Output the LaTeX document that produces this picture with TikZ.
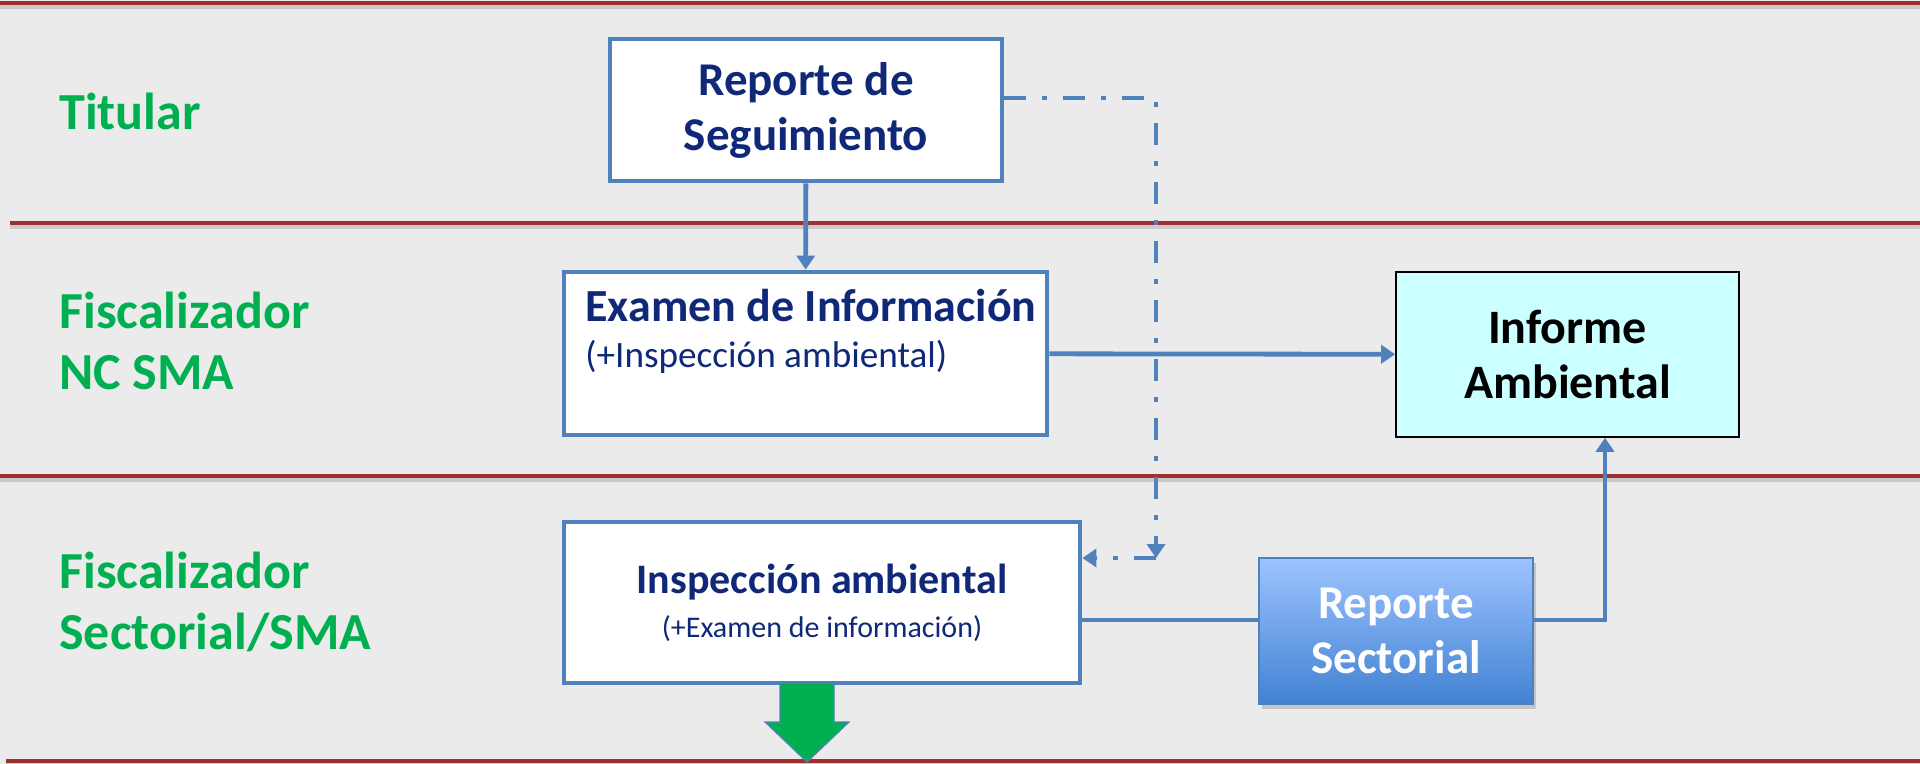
\documentclass[tikz,border=0pt]{standalone}
\usepackage{fontspec}
\setmainfont{Carlito}
\usepackage{tikz}
\usetikzlibrary{arrows.meta,shadows}
\definecolor{lanered}{RGB}{160,48,46}
\definecolor{boxblue}{RGB}{79,129,189}
\definecolor{navy}{RGB}{16,40,120}
\definecolor{lanegreen}{RGB}{0,176,80}
\definecolor{bggray}{RGB}{235,235,235}
\definecolor{cyanfill}{RGB}{204,255,255}
\definecolor{sectop}{RGB}{157,195,255}
\definecolor{secbot}{RGB}{66,130,210}
\tikzstyle{box} = [rectangle, draw=boxblue, line width=2.4pt, fill=white, text=navy, font=\bfseries\fontsize{23.5}{27.5}\selectfont, align=center]
\tikzstyle{line} = [draw=boxblue, line width=2.4pt, -{Triangle[length=7pt,width=9pt]}]
\tikzstyle{wire} = [draw=boxblue, line width=2.4pt]
\tikzstyle{dashdot} = [line, dash pattern=on 11pt off 8pt on 2.5pt off 8pt]
\tikzstyle{lanelabel} = [anchor=base west, inner sep=0pt, text=lanegreen, font=\bfseries\fontsize{26}{30.5}\selectfont, align=left]
\tikzstyle{laneline} = [draw=lanered, line width=1.6pt]

\begin{document}
\begin{tikzpicture}[x=0.5pt, y=-0.5pt]
    \useasboundingbox[fill=bggray] (0,0) rectangle (1920,764);

    % swimlane borders
    \foreach \y/\x in {3/0, 223/10, 476/0, 761/6} {
        \draw[black!40, opacity=0.4, line width=2pt] (\x,\y+4) -- (1920,\y+4);
        \draw[laneline] (\x,\y) -- (1920,\y);
    }

    \node [lanelabel] (titular) at (59,130) {Titular};
    \node [lanelabel] (fiscnc) at (59,389) {Fiscalizador\\NC SMA};
    \node [lanelabel] (fiscsec) at (59,649) {Fiscalizador\\Sectorial/SMA};

    \node [box, minimum width=196pt, minimum height=71pt] (seg) at (806,110) {Reporte de\\Seguimiento};
    \node [box, minimum width=241.5pt, minimum height=81.5pt] (exam) at (805.5,353.5) {};
    \node [anchor=base west, inner sep=0pt, align=left, text=navy, font=\fontsize{23}{23}\selectfont] (examtxt) at (585,367)
        {\textbf{Examen de Información}\\\fontsize{18.6}{23}\selectfont(+Inspección ambiental)};
    \node [box, minimum width=258pt, minimum height=80.5pt, font=\bfseries\fontsize{21}{22}\selectfont] (insp) at (822,602.5)
        {Inspección ambiental\\\normalfont\fontsize{15}{22}\selectfont(+Examen de información)};
    \node [box, draw=black, line width=0.8pt, fill=cyanfill, text=black, font=\bfseries\fontsize{24}{27.5}\selectfont, minimum width=171.5pt, minimum height=82.5pt] (inf) at (1567.5,354.5) {Informe\\Ambiental};
    \node [box, line width=0.8pt, top color=sectop, bottom color=secbot, text=white, minimum width=137pt, minimum height=73pt,
        drop shadow={shadow xshift=1.5pt, shadow yshift=-2.5pt, opacity=0.35}] (sect) at (1396,631) {Reporte\\Sectorial};

    \coordinate (ddtop) at (1156,98);
    \coordinate (ddbot) at (1156,558);
    \coordinate (lvl) at (1605,620);

    \path [line] (seg) -- (exam);
    \path [line] (exam) -- (inf);
    \path [dashdot] (seg.east |- ddtop) -- (ddtop) -- (ddbot);
    \path [dashdot] (ddbot) -- (ddbot -| insp.east);
    \path [wire] (insp.east |- lvl) -- (sect.west |- lvl);
    \path [line] (sect.east |- lvl) -- (lvl) -- (lvl |- inf.south);

    % exit arrow
    \draw [fill=lanegreen, draw=boxblue, line width=0.6pt]
        (780,683) -- (834,683) -- (834,722) -- (849,722) -- (807,762) -- (765,722) -- (780,722) -- cycle;
\end{tikzpicture}
\end{document}
